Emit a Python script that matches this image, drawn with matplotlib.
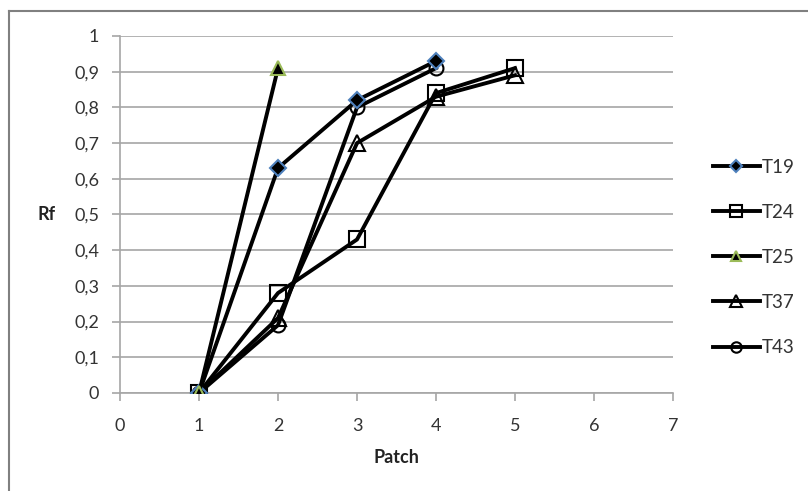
import matplotlib.pyplot as plt
from matplotlib.lines import Line2D
from matplotlib.ticker import FuncFormatter

plt.rcParams['font.family'] = ['Lato', 'DejaVu Sans']

t19_x = [1, 2, 3, 4]
t19_y = [0, 0.63, 0.82, 0.93]
t24_x = [1, 2, 3, 4, 5]
t24_y = [0, 0.28, 0.43, 0.84, 0.91]
t25_x = [1, 2]
t25_y = [0, 0.91]
t37_x = [1, 2, 3, 4, 5]
t37_y = [0, 0.21, 0.70, 0.83, 0.89]
t43_x = [1, 2, 3, 4]
t43_y = [0, 0.19, 0.80, 0.91]

fig = plt.figure(figsize=(8.08, 4.91), dpi=100)
ax = fig.add_axes([0.1485, 0.1996, 0.6845, 0.7271])

lw = 2.8
ax.plot(t19_x, t19_y, color='black', lw=lw, marker='D', ms=8, mfc='black', mec='#4f81bd', mew=1.5, label='T19', zorder=5)
ax.plot(t24_x, t24_y, color='black', lw=lw, marker='s', ms=12, mfc='none', mec='black', mew=1.5, label='T24', zorder=4)
ax.plot(t25_x, t25_y, color='black', lw=lw, marker='^', ms=10, mfc='black', mec='#9bbb59', mew=1.5, label='T25', zorder=5)
ax.plot(t37_x, t37_y, color='black', lw=lw, marker='^', ms=11, mfc='none', mec='black', mew=1.5, label='T37', zorder=4)
ax.plot(t43_x, t43_y, color='black', lw=lw, marker='o', ms=10, mfc='none', mec='black', mew=1.5, label='T43', zorder=4)

ax.set_xlim(0, 7)
ax.set_ylim(0, 1)
ax.set_xticks(range(0, 8))
ax.set_yticks([i / 10 for i in range(11)])
ax.yaxis.set_major_formatter(FuncFormatter(lambda v, p: f"{v:g}".replace('.', ',')))
ax.yaxis.grid(True, color='#a6a6a6', lw=1.2)
ax.set_axisbelow(True)
for s in ['top', 'right']:
    ax.spines[s].set_visible(False)
for s in ['left', 'bottom']:
    ax.spines[s].set_color('#a6a6a6')
    ax.spines[s].set_linewidth(1.2)
ax.tick_params(axis='both', colors='#a6a6a6', labelcolor='#333333', labelsize=13, length=6, width=1.2)
ax.tick_params(axis='y', pad=9)
ax.tick_params(axis='x', pad=12)
ax.set_xlabel('Patch', fontsize=13, fontweight='bold', color='#222222', labelpad=11)
ax.set_ylabel('Rf', fontsize=13, fontweight='bold', color='#222222', rotation=0, va='center', labelpad=20)

leg = ax.legend(loc='center left', bbox_to_anchor=(1.072, 0.38), frameon=False, fontsize=13.5,
                handlelength=2.5, handletextpad=0.1, labelspacing=1.5, markerscale=0.75,
                borderaxespad=0, borderpad=0)
for t in leg.get_texts():
    t.set_color('#333333')

# outer chart frame
fig.add_artist(Line2D([9 / 808, 1], [1 - 11 / 491, 1 - 11 / 491], transform=fig.transFigure, color='#808080', lw=1.5))
fig.add_artist(Line2D([9 / 808, 9 / 808], [0, 1 - 11 / 491], transform=fig.transFigure, color='#808080', lw=1.5))

fig.savefig('out.png', dpi=100)
